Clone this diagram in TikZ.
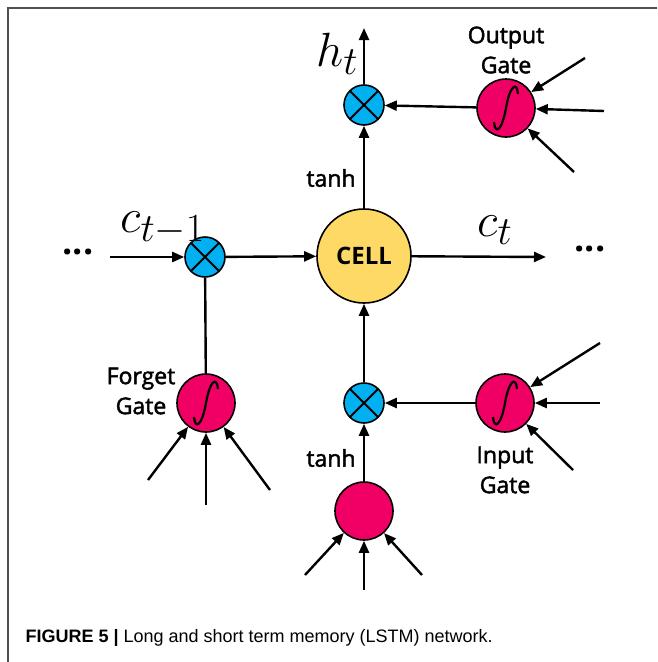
\documentclass[tikz,border=0pt]{standalone}
\usepackage{fontspec}
\setmainfont{Open Sans}
\newfontfamily\lblfont{Open Sans}[FakeBold=2]
\newfontfamily\capfont{Liberation Sans}
\usetikzlibrary{calc,positioning,arrows.meta}
\definecolor{multblue}{RGB}{0,176,240}
\definecolor{gatered}{RGB}{240,0,100}
\definecolor{cellyellow}{RGB}{255,217,102}
\definecolor{framegray}{RGB}{80,80,80}

\tikzset{
  mult/.style={circle, draw=black, line width=1.6pt, fill=multblue, minimum size=40pt, inner sep=0pt,
    path picture={\draw[line width=2pt] (path picture bounding box.north west) -- (path picture bounding box.south east)
      (path picture bounding box.north east) -- (path picture bounding box.south west);}},
  gate/.style={circle, draw=black, line width=1.6pt, fill=gatered, minimum size=58pt, inner sep=0pt},
  cellnode/.style={circle, draw=black, line width=1.6pt, fill=cellyellow, minimum size=94pt, inner sep=0pt,
    font=\fontsize{24}{26}\selectfont\bfseries},
  arr/.style={line width=2.4pt, -{Triangle[length=12pt,width=10pt]}},
  conn/.style={line width=2.4pt},
  lbl/.style={font=\fontsize{23}{30}\lblfont, align=center},
  mlbl/.style={font=\Huge, scale=1.93, inner sep=0pt},
  dots/.style={font=\fontsize{36}{36}\selectfont\bfseries}
}

% the S of a sigmoid gate
\newcommand{\sigcurve}[1]{\draw[line width=2.2pt] ($(#1)+(12,-14)$) .. controls ($(#1)+(11,-27)$) and ($(#1)+(4,-23)$) .. (#1.center)
  .. controls ($(#1)+(-4,23)$) and ($(#1)+(-11,27)$) .. ($(#1)+(-12,14)$);}

\begin{document}
\begin{tikzpicture}[x=1pt,y=-1pt]
\useasboundingbox (0,0) rectangle (657,662);
\draw[framegray, line width=1.5pt] (657,8) -- (8,8) -- (8,662);

% nodes
\node[cellnode] (cell) at (364,256) {CELL};
\node[mult] (hx) at (364,105) {};
\node[mult] (cx) at (205,257) {};
\node[mult] (ix) at (364,403) {};
\node[gate] (og) at (506,108) {};
\node[gate] (fg) at (206,403) {};
\node[gate] (ig) at (505,403) {};
\node[gate] (cand) at (364,511) {};
\sigcurve{og}
\sigcurve{fg}
\sigcurve{ig}

% labels
\node[lbl] (oglbl) at (506,50) {Output\\Gate};
\node[lbl] (fglbl) at (141,391) {Forget\\Gate};
\node[lbl] (iglbl) at (505,470) {Input\\Gate};
\node[lbl] (tanhtop) at (331,178) {tanh};
\node[lbl] (tanhbot) at (331,458) {tanh};
\node[mlbl, anchor=base west] (htlbl) at (316,66) {$h_t$};
\node[mlbl, anchor=base west] (ctmlbl) at (120,232) {$c_{t{-}1}$};
\node[mlbl, anchor=base west] (ctlbl) at (477,236) {$c_t$};
\node[dots] (ldots) at (78,252) {...};
\node[dots] (rdots) at (590,249) {...};

% free ends
\coordinate (htend) at (364,28);
\coordinate (cin) at (110,257);
\coordinate (cout) at (546,257);
\coordinate (og1) at (585,58);
\coordinate (og2) at (604,111);
\coordinate (og3) at (574,172);
\coordinate (ig1) at (600,343);
\coordinate (ig2) at (600,403);
\coordinate (ig3) at (573,470);
\coordinate (fg1) at (148,480);
\coordinate (fg2) at (206,505);
\coordinate (fg3) at (270,490);
\coordinate (cd1) at (305,575);
\coordinate (cd2) at (364,590);
\coordinate (cd3) at (422,575);

% connectors
\draw[arr] (hx) -- (htend);
\draw[arr] (og) -- (hx);
\draw[arr] (cell) -- (hx);
\draw[arr] (cin) -- (cx);
\draw[arr] (cx) -- (cell);
\draw[arr] (cell) -- (cout);
\draw[conn] (fg) -- (cx);
\draw[arr] (ix) -- (cell);
\draw[arr] (ig) -- (ix);
\draw[arr] (cand) -- (ix);
\foreach \i in {1,2,3} {
  \draw[arr] (og\i) -- (og);
  \draw[arr] (ig\i) -- (ig);
  \draw[arr] (fg\i) -- (fg);
  \draw[arr] (cd\i) -- (cand);
}

% caption
\node[anchor=base west] (caption) at (22,642) {\capfont\fontsize{18}{20}\selectfont\textbf{FIGURE 5 |} Long and short term memory (LSTM) network.};
\end{tikzpicture}
\end{document}
